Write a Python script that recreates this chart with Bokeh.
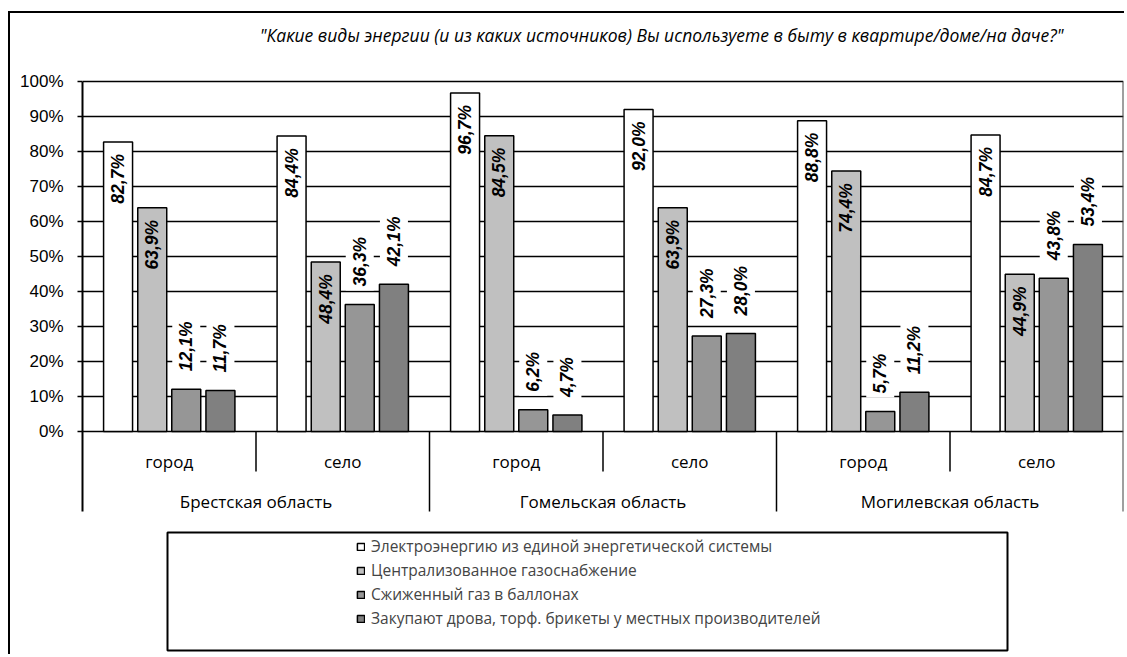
import numpy as np
from bokeh.plotting import figure
from bokeh.models import (FactorRange, Range1d, FixedTicker, PrintfTickFormatter,
                          BoxAnnotation, Legend, LegendItem, ColumnDataSource)
from bokeh.transform import dodge
from bokeh.core.properties import value
from bokeh.embed import file_html
from bokeh.resources import INLINE

# ---------------- data ----------------
regions = ["Брестская область", "Гомельская область", "Могилевская область"]
places = ["город", "село"]
series_names = [
    "Электроэнергию из единой энергетической системы",
    "Централизованное газоснабжение",
    "Сжиженный газ в баллонах",
    "Закупают дрова, торф. брикеты у местных производителей",
]
electricity = [82.7, 84.4, 96.7, 92.0, 88.8, 84.7]
central_gas = [63.9, 48.4, 84.5, 63.9, 74.4, 44.9]
bottled_gas = [12.1, 36.3, 6.2, 27.3, 5.7, 43.8]
firewood = [11.7, 42.1, 4.7, 28.0, 11.2, 53.4]
y_ticks = [0, 10, 20, 30, 40, 50, 60, 70, 80, 90, 100]
title_text = '"Какие виды энергии (и из каких источников) Вы используете в быту в квартире/доме/на даче?"'

# ---------------- styling / layout ----------------
colors = ["#FFFFFF", "#C0C0C0", "#969696", "#808080"]
label_inside = [True, True, False, False]
offsets = [-0.295, -0.098, 0.098, 0.295]
bar_width = 0.167

W, H = 1116, 643
PX = 3.5                      # pixels per percent
TOP100 = 68                   # canvas y of the 100% line
ZERO = 418                    # canvas y of the 0% line
y_top = 100 + TOP100 / PX
y_bot = -(H - ZERO) / PX
sub_sep_bottom = -40 / PX
reg_sep_bottom = -80 / PX
cat_y = -30 / PX
reg_y = -70 / PX
title_y = 100 + 47 / PX

factors = [(r, pl) for r in regions for pl in places]
series = [electricity, central_gas, bottled_gas, firewood]


def fmt(v):
    return f"{v:.1f}%".replace(".", ",")


data = dict(x=factors)
for i, s in enumerate(series):
    data[f"s{i}"] = s
    data[f"l{i}"] = [fmt(v) for v in s]
src = ColumnDataSource(data)

x_range = FactorRange(*factors, range_padding=0, factor_padding=0,
                      subgroup_padding=0, group_padding=0)

p = figure(width=W, height=H, x_range=x_range, y_range=Range1d(y_bot, y_top),
           x_axis_location=None, output_backend="svg", toolbar_location=None,
           min_border_left=72, min_border_right=3, min_border_top=0, min_border_bottom=0,
           outline_line_color=None, background_fill_color="white", border_fill_color="white")
p.styles = {"margin-left": "8px", "margin-top": "11px",
            "border-left": "2px solid black", "border-top": "2px solid black"}

# y axis
ax = p.yaxis[0]
ax.ticker = FixedTicker(ticks=y_ticks)
ax.formatter = PrintfTickFormatter(format="%d%%")
ax.bounds = (reg_sep_bottom, 100)
ax.axis_line_width = 2
ax.axis_line_color = "black"
ax.major_tick_out = 5
ax.major_tick_in = 0
ax.major_tick_line_width = 1.5
ax.minor_tick_line_color = None
ax.major_label_text_font = "Liberation Sans"
ax.major_label_text_font_size = "17px"
ax.major_label_text_color = "black"
ax.major_label_standoff = 14

p.ygrid.grid_line_color = "black"
p.ygrid.grid_line_width = 1.5
p.xgrid.visible = False

# bars
renderers = []
for i in range(4):
    r = p.vbar(x=dodge("x", offsets[i], range=p.x_range), top=f"s{i}", width=bar_width,
               source=src, fill_color=colors[i], line_color="black", line_width=1.5)
    renderers.append(r)

# value labels
for i in range(4):
    inside = label_inside[i]
    kw = dict(background_fill_color="white", padding=4) if not inside else {}
    p.text(x=dodge("x", offsets[i], range=p.x_range), y=f"s{i}", text=f"l{i}", source=src,
           angle=np.pi / 2, text_align="right" if inside else "left", text_baseline="middle",
           y_offset=12 if inside else -14,
           text_font=value("Liberation Sans"), text_font_style="bold italic",
           text_font_size="17.5px", text_color="black", **kw)

# category separators
sub_src = ColumnDataSource(dict(f=[(r, "село") for r in regions]))
p.segment(x0=dodge("f", -0.5, range=p.x_range), y0=0, x1=dodge("f", -0.5, range=p.x_range),
          y1=sub_sep_bottom, source=sub_src, line_color="black", line_width=1.5)
reg_src = ColumnDataSource(dict(f=[(r, "город") for r in regions[1:]]))
p.segment(x0=dodge("f", -0.5, range=p.x_range), y0=0, x1=dodge("f", -0.5, range=p.x_range),
          y1=reg_sep_bottom, source=reg_src, line_color="black", line_width=1.5)
end_src = ColumnDataSource(dict(f=[factors[-1]]))
p.segment(x0=dodge("f", 0.5, range=p.x_range), y0=100, x1=dodge("f", 0.5, range=p.x_range),
          y1=reg_sep_bottom, source=end_src, line_color="#404040", line_width=2)

# category labels
p.text(x=factors, y=cat_y, text=[f[1] for f in factors], text_align="center",
       text_baseline="middle", text_font=value("Open Sans"), text_font_size="17px",
       text_color="black")
p.text(x=regions, y=reg_y, text=regions, text_align="center",
       text_baseline="middle", text_font=value("Open Sans"), text_font_size="17px",
       text_color="black")

# title
title_src = ColumnDataSource(dict(f=[factors[-1]], t=[title_text]))
p.text(x=dodge("f", 0.5, range=p.x_range), y=title_y, text="t", source=title_src,
       x_offset=-60, text_align="right", text_baseline="middle",
       text_font=value("Open Sans"), text_font_style="italic", text_font_size="17.5px",
       text_color="black")

# legend box
p.add_layout(BoxAnnotation(left=155, top=517, right=995, bottom=635,
                           left_units="canvas", right_units="canvas",
                           top_units="canvas", bottom_units="canvas",
                           fill_alpha=0, line_color="black", line_alpha=1, line_width=2))

legend = Legend(items=[LegendItem(label=n, renderers=[r]) for n, r in zip(series_names, renderers)],
                location=(274, 27), orientation="vertical", border_line_color=None,
                background_fill_alpha=0, padding=0, margin=0, glyph_width=9, glyph_height=9,
                label_standoff=6, label_text_font="Open Sans", label_text_font_size="15.5px",
                label_height=20, spacing=2)
p.add_layout(legend)

open("out.html", "w").write(file_html(p, INLINE))
